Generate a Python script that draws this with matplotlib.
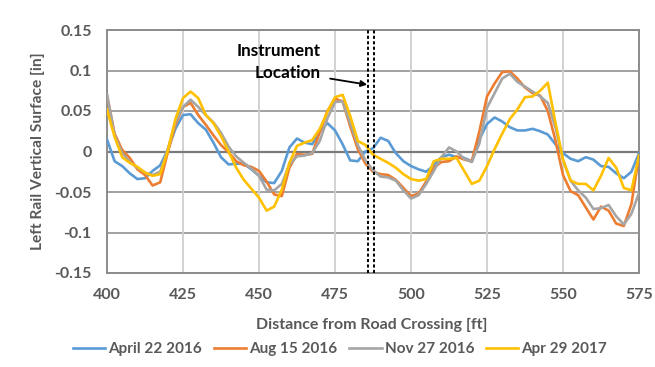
import matplotlib
matplotlib.use("Agg")
import matplotlib.pyplot as plt

distance_ft = [400, 402.5, 405, 407.5, 410, 412.5, 415, 417.5, 420, 422.5,
               425, 427.5, 430, 432.5, 435, 437.5, 440, 442.5, 445, 447.5,
               450, 452.5, 455, 457.5, 460, 462.5, 465, 467.5, 470, 472.5,
               475, 477.5, 480, 482.5, 485, 487.5, 490, 492.5, 495, 497.5,
               500, 502.5, 505, 507.5, 510, 512.5, 515, 517.5, 520, 522.5,
               525, 527.5, 530, 532.5, 535, 537.5, 540, 542.5, 545, 547.5,
               550, 552.5, 555, 557.5, 560, 562.5, 565, 567.5, 570, 572.5,
               575]

april_22_2016 = [0.015, -0.012, -0.018, -0.027, -0.034, -0.033, -0.024, -0.017, 0.002, 0.028,
                 0.045, 0.046, 0.035, 0.027, 0.011, -0.007, -0.016, -0.015, -0.015, -0.022,
                 -0.030, -0.038, -0.039, -0.024, 0.005, 0.016, 0.011, 0.009, 0.025, 0.035,
                 0.026, 0.009, -0.011, -0.012, 0.000, 0.004, 0.017, 0.013, -0.002, -0.012,
                 -0.018, -0.022, -0.025, -0.017, -0.007, -0.004, -0.007, -0.008, -0.012, 0.015,
                 0.034, 0.042, 0.037, 0.030, 0.026, 0.026, 0.028, 0.025, 0.021, 0.009,
                 -0.002, -0.009, -0.012, -0.007, -0.010, -0.018, -0.019, -0.027, -0.033, -0.025,
                 -0.002]

aug_15_2016 = [0.069, 0.022, 0.002, -0.008, -0.022, -0.029, -0.042, -0.038, -0.001, 0.033,
               0.055, 0.060, 0.045, 0.033, 0.020, 0.008, -0.001, -0.012, -0.017, -0.019,
               -0.024, -0.037, -0.053, -0.055, -0.020, -0.003, -0.004, -0.003, 0.024, 0.050,
               0.065, 0.062, 0.031, 0.003, -0.015, -0.025, -0.028, -0.029, -0.035, -0.045,
               -0.055, -0.052, -0.037, -0.020, -0.013, -0.012, -0.006, -0.010, -0.012, 0.025,
               0.068, 0.084, 0.098, 0.099, 0.090, 0.079, 0.072, 0.069, 0.050, 0.014,
               -0.029, -0.049, -0.054, -0.069, -0.084, -0.068, -0.073, -0.089, -0.092, -0.065,
               -0.005]

nov_27_2016 = [0.071, 0.020, -0.002, -0.013, -0.020, -0.026, -0.029, -0.025, 0.003, 0.036,
               0.055, 0.064, 0.055, 0.045, 0.036, 0.023, 0.006, -0.006, -0.014, -0.021,
               -0.030, -0.047, -0.048, -0.040, -0.016, -0.006, -0.005, -0.002, 0.013, 0.041,
               0.061, 0.062, 0.035, 0.008, -0.011, -0.023, -0.031, -0.032, -0.036, -0.048,
               -0.058, -0.054, -0.040, -0.024, -0.007, 0.005, 0.000, -0.009, -0.013, 0.010,
               0.054, 0.072, 0.090, 0.096, 0.086, 0.080, 0.074, 0.068, 0.060, 0.030,
               -0.010, -0.036, -0.048, -0.057, -0.071, -0.070, -0.066, -0.080, -0.090, -0.077,
               -0.051]

apr_29_2017 = [0.052, 0.018, -0.007, -0.014, -0.019, -0.026, -0.030, -0.028, 0.001, 0.040,
               0.066, 0.074, 0.066, 0.045, 0.035, 0.019, 0.000, -0.020, -0.035, -0.046,
               -0.057, -0.073, -0.068, -0.047, -0.014, 0.007, 0.011, 0.014, 0.028, 0.049,
               0.067, 0.070, 0.044, 0.013, 0.008, -0.004, -0.009, -0.014, -0.020, -0.028,
               -0.034, -0.036, -0.034, -0.012, -0.009, -0.009, -0.008, -0.024, -0.040, -0.036,
               -0.018, 0.003, 0.022, 0.040, 0.052, 0.067, 0.068, 0.075, 0.085, 0.036,
               -0.010, -0.036, -0.040, -0.040, -0.048, -0.030, -0.008, -0.020, -0.045, -0.048,
               -0.005]

series_labels = ["April 22 2016", "Aug 15 2016", "Nov 27 2016", "Apr 29 2017"]
series_colors = ["#5B9BD5", "#ED7D31", "#A5A5A5", "#FFC000"]
x_ticks = [400, 425, 450, 475, 500, 525, 550, 575]
y_ticks = [-0.15, -0.1, -0.05, 0, 0.05, 0.1, 0.15]
y_tick_labels = ["-0.15", "-0.1", "-0.05", "0", "0.05", "0.1", "0.15"]
instrument_ft = [485.8, 487.8]

plt.rcParams['font.family'] = ['Lato', 'DejaVu Sans']
text_color = "#595959"
fs = 11.5

fig = plt.figure(figsize=(6.55, 3.67), dpi=100)
ax = fig.add_axes([107/655, 1-273/367, (639-107)/655, (273-30)/367])

ax.set_xlim(400, 575)
ax.set_ylim(-0.15, 0.15)
ax.set_xticks(x_ticks)
ax.set_xticklabels([str(t) for t in x_ticks])
ax.set_yticks(y_ticks)
ax.set_yticklabels(y_tick_labels)

for yv in y_ticks:
    if yv == 0:
        continue
    ax.axhline(yv, color="#9a9a9a", lw=1.3, zorder=1)
for xv in x_ticks:
    ax.axvline(xv, color="#cfcfcf", lw=1.3, zorder=1)
ax.axhline(0, color="#7a7a7a", lw=1.6, zorder=1.5)

for sp in ax.spines.values():
    sp.set_color("#8c8c8c")
    sp.set_linewidth(1.4)

all_series = [april_22_2016, aug_15_2016, nov_27_2016, apr_29_2017]
for vals, lab, col in zip(all_series, series_labels, series_colors):
    ax.plot(distance_ft, vals, color=col, lw=1.9, label=lab, zorder=3)

for xi in instrument_ft:
    ax.axvline(xi, color="black", lw=1.4, linestyle=(0, (1.6, 1.2)), zorder=4)

ax.text(470.4, 0.1235, "Instrument", ha="right", va="center", fontsize=12.3,
        fontweight="bold", color="black")
ax.text(470.4, 0.0975, "Location", ha="right", va="center", fontsize=12.3,
        fontweight="bold", color="black")
ax.annotate("", xy=(485.6, 0.0825), xytext=(473.4, 0.090),
            arrowprops=dict(arrowstyle="-|>", color="black", lw=1.3,
                            mutation_scale=9, shrinkA=0, shrinkB=0), zorder=5)

ax.tick_params(axis="x", length=0, labelsize=fs, colors=text_color, pad=11)
ax.tick_params(axis="y", length=0, labelsize=fs, colors=text_color, pad=11)
for lbl in ax.get_xticklabels() + ax.get_yticklabels():
    lbl.set_fontweight("bold")

fig.text(372/655, 1-325/367, "Distance from Road Crossing [ft]", ha="center", va="center",
         fontsize=fs, fontweight="bold", color=text_color)
fig.text(38/655, 1-151/367, "Left Rail Vertical Surface [in]", ha="center", va="center",
         rotation=90, fontsize=11.2, fontweight="bold", color=text_color)

leg = fig.legend(*ax.get_legend_handles_labels(), loc="center",
                 bbox_to_anchor=(340/655, 1-349/367), ncol=4,
                 frameon=False, fontsize=11, handlelength=2.1, columnspacing=0.8,
                 handletextpad=0.2)
for t in leg.get_texts():
    t.set_fontweight("bold")
    t.set_color(text_color)

fig.savefig("out.png", dpi=100)
